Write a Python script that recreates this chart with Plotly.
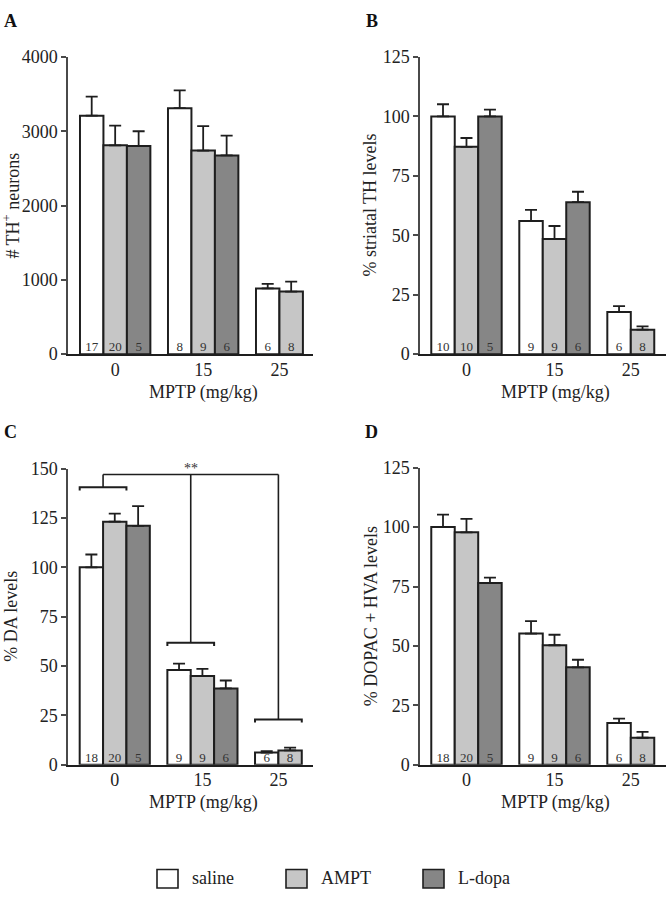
import plotly.graph_objects as go

W, H = 666, 900

# ---------------- data ----------------
groups = ["0", "15", "25"]
series = ["saline", "AMPT", "L-dopa"]
colors = ["#ffffff", "#c6c6c6", "#868686"]

# Panel A: # TH+ neurons
A_saline = [3210, 3310, 885]
A_saline_err = [255, 240, 60]
A_ampt = [2810, 2740, 842]
A_ampt_err = [265, 330, 135]
A_ldopa = [2800, 2675]
A_ldopa_err = [200, 265]
A_n_saline = [17, 8, 6]
A_n_ampt = [20, 9, 8]
A_n_ldopa = [5, 6]

# Panel B: % striatal TH levels
B_saline = [100, 56.0, 17.7]
B_saline_err = [5.1, 4.7, 2.5]
B_ampt = [87.2, 48.4, 10.3]
B_ampt_err = [3.7, 5.5, 1.4]
B_ldopa = [100, 63.9]
B_ldopa_err = [2.8, 4.4]
B_n_saline = [10, 9, 6]
B_n_ampt = [10, 9, 8]
B_n_ldopa = [5, 6]

# Panel C: % DA levels
C_saline = [100, 48.0, 6.2]
C_saline_err = [6.5, 3.2, 0.7]
C_ampt = [123.1, 45.0, 7.3]
C_ampt_err = [4.1, 3.6, 1.4]
C_ldopa = [121, 38.7]
C_ldopa_err = [10, 4.0]
C_n_saline = [18, 9, 6]
C_n_ampt = [20, 9, 8]
C_n_ldopa = [5, 6]
C_bracket_levels = [140.5, 61.8, 23.0]
C_bracket_top = 147
C_sig_label = "**"

# Panel D: % DOPAC + HVA levels
D_saline = [100, 55.2, 17.6]
D_saline_err = [5.2, 5.2, 1.8]
D_ampt = [97.8, 50.3, 11.4]
D_ampt_err = [5.6, 4.4, 2.5]
D_ldopa = [76.5, 41.0]
D_ldopa_err = [2.2, 3.2]
D_n_saline = [18, 9, 6]
D_n_ampt = [20, 9, 8]
D_n_ldopa = [5, 6]

A_ticks = [0, 1000, 2000, 3000, 4000]
B_ticks = [0, 25, 50, 75, 100, 125]
C_ticks = [0, 25, 50, 75, 100, 125, 150]
D_ticks = [0, 25, 50, 75, 100, 125]

x_title = "MPTP (mg/kg)"

# ---------------- layout helpers ----------------
FONT = "Liberation Serif"
INK = "#1e1e1e"
AXC = "#4a4a4a"
GAP = 0.75  # gap between groups, in bar widths
FS = 18


def px_x(p):
    return p / W


def px_y(p):
    return 1 - p / H


def bar_positions(values_per_series):
    """Compute bar centre for every (series, group) from counts of bars per group."""
    ngroups = len(groups)
    counts = [sum(1 for vals in values_per_series if g < len(vals)) for g in range(ngroups)]
    pos = [[None] * ngroups for _ in values_per_series]
    centres = []
    left_edges = []
    off = 0.0
    for g in range(ngroups):
        i = 0
        left_edges.append(off)
        for s, vals in enumerate(values_per_series):
            if g < len(vals):
                pos[s][g] = off + i + 0.5
                i += 1
        centres.append(off + counts[g] / 2)
        off += counts[g] + GAP
    return pos, centres, left_edges


panels = [
    dict(key="A", vals=[A_saline, A_ampt, A_ldopa], errs=[A_saline_err, A_ampt_err, A_ldopa_err],
         ns=[A_n_saline, A_n_ampt, A_n_ldopa], ticks=A_ticks, ax="", ytitle="# TH<sup>+</sup> neurons",
         xdom=(68, 313), ydom=(48, 352), xr=(-0.51, 9.93), ytx=12, xtx=203),
    dict(key="B", vals=[B_saline, B_ampt, B_ldopa], errs=[B_saline_err, B_ampt_err, B_ldopa_err],
         ns=[B_n_saline, B_n_ampt, B_n_ldopa], ticks=B_ticks, ax="2", ytitle="% striatal TH levels",
         xdom=(420, 666), ydom=(48, 352), xr=(-0.48, 10.0), ytx=370, xtx=555),
    dict(key="C", vals=[C_saline, C_ampt, C_ldopa], errs=[C_saline_err, C_ampt_err, C_ldopa_err],
         ns=[C_n_saline, C_n_ampt, C_n_ldopa], ticks=C_ticks, ax="3", ytitle="% DA levels",
         xdom=(68, 313), ydom=(469, 772), xr=(-0.50, 9.98), ytx=11, xtx=203),
    dict(key="D", vals=[D_saline, D_ampt, D_ldopa], errs=[D_saline_err, D_ampt_err, D_ldopa_err],
         ns=[D_n_saline, D_n_ampt, D_n_ldopa], ticks=D_ticks, ax="4", ytitle="% DOPAC + HVA levels",
         xdom=(420, 666), ydom=(468, 772), xr=(-0.48, 10.0), ytx=371, xtx=555),
]

fig = go.Figure()
annotations = []
shapes = []
layout = {}

for p in panels:
    xa, ya = "x" + p["ax"], "y" + p["ax"]
    pos, centres, lefts = bar_positions(p["vals"])
    for s, name in enumerate(series):
        vals = p["vals"][s]
        xs = [pos[s][g] for g in range(len(vals))]
        fig.add_trace(go.Bar(
            x=xs, y=vals, width=1, name=name, showlegend=False,
            marker=dict(color=colors[s], line=dict(color=INK, width=2)),
            error_y=dict(type="data", symmetric=False, array=p["errs"][s],
                         arrayminus=[0] * len(vals), color=INK, thickness=1.8, width=6),
            xaxis=xa, yaxis=ya, hoverinfo="skip",
        ))
        fig.add_trace(go.Scatter(
            x=xs, y=[0] * len(vals), mode="text", text=[str(n) for n in p["ns"][s]],
            textposition="top center", showlegend=False, cliponaxis=False,
            textfont=dict(family=FONT, size=13, color="#333333"),
            xaxis=xa, yaxis=ya, hoverinfo="skip",
        ))
    ticks = p["ticks"]
    layout["xaxis" + p["ax"]] = dict(
        domain=[px_x(p["xdom"][0]), px_x(p["xdom"][1])], range=list(p["xr"]),
        anchor=ya, showline=True, linecolor=INK, linewidth=2, ticks="",
        tickvals=centres, ticktext=groups, showgrid=False, zeroline=False,
        tickfont=dict(family=FONT, size=FS, color="#222"), fixedrange=True,
        ticklabelstandoff=-2,
    )
    layout["yaxis" + p["ax"]] = dict(
        domain=[px_y(p["ydom"][1]), px_y(p["ydom"][0])], range=[ticks[0], ticks[-1]],
        anchor=xa, showline=True, linecolor=AXC, linewidth=1.5, ticks="outside",
        ticklen=5, tickwidth=1.5, tickcolor=AXC, tickvals=ticks,
        showgrid=False, zeroline=False, tickfont=dict(family=FONT, size=FS, color="#222"),
        fixedrange=True,
    )
    # y title
    annotations.append(dict(
        text=p["ytitle"], textangle=-90, xref="paper", yref="paper",
        x=px_x(p["ytx"]), y=px_y((p["ydom"][0] + p["ydom"][1]) / 2),
        showarrow=False, font=dict(family=FONT, size=FS, color="#222"),
        xanchor="center", yanchor="middle"))
    # x title
    annotations.append(dict(
        text=x_title, xref="paper", yref="paper",
        x=px_x(p["xtx"]), y=px_y(p["ydom"][1] + 26),
        showarrow=False, font=dict(family=FONT, size=FS, color="#222"),
        xanchor="center", yanchor="top"))
    # panel letter
    lx = 10 if p["ax"] in ("", "3") else 372
    ly = 11 if p["ax"] in ("", "2") else 432
    annotations.append(dict(
        text="<b>%s</b>" % p["key"], xref="paper", yref="paper",
        x=px_x(lx), y=px_y(ly), showarrow=False,
        font=dict(family=FONT, size=18, color="#111"), xanchor="center", yanchor="middle"))

    if p["key"] == "C":
        drop = 1.6
        stems = []
        for g, lvl in enumerate(C_bracket_levels):
            x0 = lefts[g]
            x1 = lefts[g] + 2
            xm = lefts[g] + 1
            stems.append(xm)
            shapes.append(dict(type="path", xref=xa, yref=ya, line=dict(color=INK, width=2),
                               path="M %f,%f L %f,%f L %f,%f L %f,%f" % (
                                   x0, lvl - drop, x0, lvl, x1, lvl, x1, lvl - drop)))
            shapes.append(dict(type="line", xref=xa, yref=ya, line=dict(color=INK, width=1.6),
                               x0=xm, x1=xm, y0=lvl, y1=C_bracket_top))
        shapes.append(dict(type="line", xref=xa, yref=ya, line=dict(color=INK, width=1.6),
                           x0=stems[0], x1=stems[-1], y0=C_bracket_top, y1=C_bracket_top))
        annotations.append(dict(text=C_sig_label, xref=xa, yref=ya, x=stems[1], y=C_bracket_top,
                                yanchor="bottom", showarrow=False, yshift=-3,
                                font=dict(family=FONT, size=14, color="#333")))

# legend (custom, boxes + labels)
leg_x = [157, 286, 423]
for s, name in enumerate(series):
    shapes.append(dict(type="rect", xref="paper", yref="paper",
                       x0=px_x(leg_x[s]), x1=px_x(leg_x[s] + 21),
                       y0=px_y(898), y1=px_y(879),
                       fillcolor=colors[s], line=dict(color=INK, width=1.6)))
    annotations.append(dict(text=name, xref="paper", yref="paper",
                            x=px_x(leg_x[s] + 33), y=px_y(888), xanchor="left", yanchor="middle",
                            showarrow=False, font=dict(family=FONT, size=FS, color="#222")))

fig.update_layout(
    width=W, height=H, margin=dict(l=0, r=0, t=0, b=0),
    paper_bgcolor="white", plot_bgcolor="rgba(0,0,0,0)",
    barmode="overlay", showlegend=False,
    annotations=annotations, shapes=shapes,
    font=dict(family=FONT), **layout,
)

fig.write_html("out.html", config={"displayModeBar": False},
               post_script="document.body.style.margin='0';")
